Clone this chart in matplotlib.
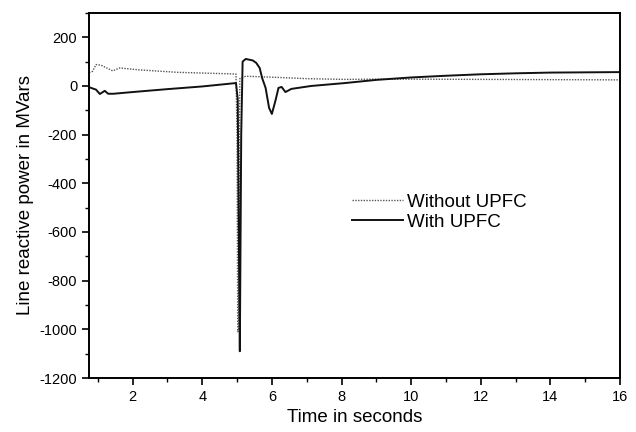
import matplotlib
matplotlib.use("Agg")
import matplotlib.pyplot as plt
from matplotlib.ticker import MultipleLocator

plt.rcParams["font.family"] = ["Liberation Sans", "DejaVu Sans"]
plt.rcParams["axes.unicode_minus"] = False

# Without UPFC (dotted trace)
t_without = [0.75, 0.85, 0.95, 1.1, 1.43, 1.63, 2.2, 3.3, 4.3, 4.97, 5.0, 5.02, 5.05, 5.08,
             5.25, 6.2, 7.0, 8.1, 9.0, 10.0, 12.0, 14.0, 16.0]
q_without = [55, 60, 88, 85, 62, 74, 66, 56, 52, 49, -200, -1010, -1000, 30,
             40, 35, 30, 27, 28, 28, 27, 26, 25]

# With UPFC (solid trace)
t_with = [0.75, 0.95, 1.06, 1.2, 1.3, 1.45, 2.0, 3.0, 4.0, 4.97, 5.02, 5.05, 5.08,
          5.12, 5.16, 5.25, 5.45, 5.55, 5.65, 5.72, 5.82, 5.92, 6.0, 6.1, 6.19,
          6.28, 6.39, 6.56, 7.13, 8.1, 9.0, 10.0, 11.0, 12.0, 13.0, 14.0, 15.0, 16.0]
q_with = [-5, -15, -33, -20, -32, -32, -25, -13, -2, 12, -55, -600, -1090,
          -200, 100, 111, 105, 95, 74, 33, -8, -90, -115, -62, -8,
          -4, -25, -12, 0, 12, 25, 35, 42, 48, 52, 55, 56, 57]

x_ticks = [2, 4, 6, 8, 10, 12, 14, 16]
y_ticks = [200, 0, -200, -400, -600, -800, -1000, -1200]

fig = plt.figure(figsize=(6.36, 4.32), dpi=100)
ax = fig.add_axes([0.140, 0.125, 0.835, 0.845])

ax.plot(t_without, q_without, color="#555555", linestyle=(0, (1, 1)), linewidth=1.0,
        label="Without UPFC")
ax.plot(t_with, q_with, color="#111111", linewidth=1.4, label="With UPFC")

ax.set_xlim(0.75, 16)
ax.set_ylim(-1200, 300)
ax.set_xticks(x_ticks)
ax.set_yticks(y_ticks)
ax.xaxis.set_minor_locator(MultipleLocator(1))
ax.yaxis.set_minor_locator(MultipleLocator(100))
ax.tick_params(which="major", direction="out", length=5, width=1.2, labelsize=10.5)
ax.tick_params(which="minor", direction="out", length=3, width=1.0)
for s in ax.spines.values():
    s.set_linewidth(1.4)

ax.set_xlabel("Time in seconds", fontsize=13.5)
ax.set_ylabel("Line reactive power in MVars", fontsize=13.5)

ax.legend(loc="upper left", bbox_to_anchor=(0.478, 0.53), frameon=False, fontsize=13.5,
          handlelength=2.7, handletextpad=0.2, labelspacing=0.15, borderpad=0)

fig.savefig("out.png", dpi=100)
